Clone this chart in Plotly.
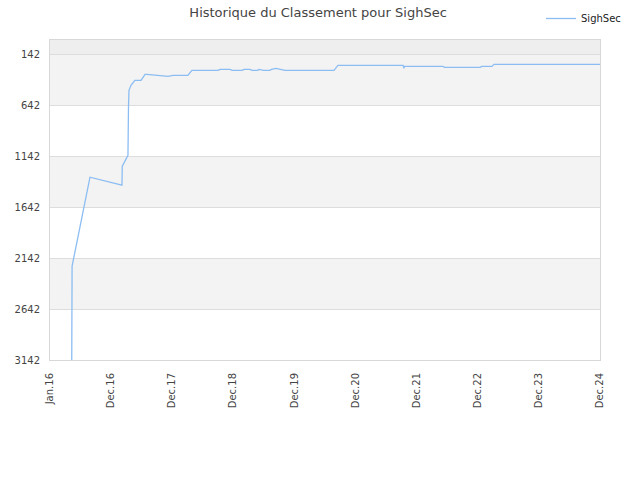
import plotly.graph_objects as go

# rank history for SighSec (lower = better)
dates = [
    "2016-05-10", "2016-05-12", "2016-08-27", "2017-03-06", "2017-03-08",
    "2017-04-11", "2017-04-14", "2017-04-17", "2017-04-29", "2017-05-22",
    "2017-06-28", "2017-07-22", "2017-08-02", "2017-10-08", "2017-12-07",
    "2018-01-05", "2018-04-04", "2018-04-28", "2018-10-01", "2018-10-13",
    "2018-12-12", "2018-12-25", "2019-02-22", "2019-03-06", "2019-04-10",
    "2019-04-22", "2019-05-27", "2019-06-03", "2019-07-01", "2019-08-07",
    "2019-08-16", "2019-09-13", "2019-10-06", "2019-11-05", "2020-08-24",
    "2020-09-05", "2020-09-17", "2021-10-11", "2021-10-16", "2021-10-20",
    "2022-06-06", "2022-06-17", "2023-01-15", "2023-01-24", "2023-03-26",
    "2023-04-08", "2024-12-31",
]
ranks = [
    3142, 2220, 1348, 1426, 1240,
    1132, 662, 495, 446, 397,
    397, 338, 338, 348, 358,
    348, 348, 299, 299, 289,
    289, 299, 299, 289, 289,
    299, 299, 289, 299, 299,
    289, 279, 289, 299, 299,
    279, 250, 250, 279, 260,
    260, 269, 269, 260, 260,
    240, 240,
]

y_ticks = [142, 642, 1142, 1642, 2142, 2642, 3142]
x_tickvals = ["2016-01-01", "2016-12-31", "2017-12-31", "2018-12-31", "2019-12-31",
              "2020-12-31", "2021-12-31", "2022-12-31", "2023-12-31", "2024-12-31"]
x_ticktext = ["Jan.16", "Dec.16", "Dec.17", "Dec.18", "Dec.19",
              "Dec.20", "Dec.21", "Dec.22", "Dec.23", "Dec.24"]

fig = go.Figure()
fig.add_trace(go.Scatter(x=dates, y=ranks, mode="lines", name="SighSec",
                         line=dict(color="#8cbdf2", width=1.3)))

# alternating bands
shapes = [dict(type="rect", xref="paper", yref="y", x0=0, x1=1, y0=1, y1=y_ticks[0],
               fillcolor="#eeeeee", line_width=0, layer="below")]
for i in range(len(y_ticks) - 1):
    if i % 2 == 0:
        shapes.append(dict(type="rect", xref="paper", yref="y", x0=0, x1=1,
                           y0=y_ticks[i], y1=y_ticks[i + 1],
                           fillcolor="#f3f3f3", line_width=0, layer="below"))

fig.update_layout(
    width=640, height=480,
    margin=dict(l=50, r=40, t=40, b=120, autoexpand=False),
    paper_bgcolor="white", plot_bgcolor="white",
    font=dict(family="DejaVu Sans", size=10, color="#444444"),
    title=dict(text="Historique du Classement pour SighSec", x=0.497, xanchor="center",
               y=1 - 12 / 480, yanchor="middle",
               font=dict(size=13, color="#444444")),
    showlegend=True,
    legend=dict(xref="container", yref="container", x=541 / 640, y=1 - 4 / 480,
                xanchor="left", yanchor="top", bgcolor="rgba(0,0,0,0)",
                font=dict(size=10, color="#222222"), itemwidth=30),
    shapes=shapes,
    xaxis=dict(type="date", range=["2016-01-01", "2024-12-31"],
               tickvals=x_tickvals, ticktext=x_ticktext, tickangle=-90,
               showgrid=False, zeroline=False, showline=True, linecolor="#d8d8d8",
               mirror=True, ticks="", ticklabelstandoff=8,
               tickfont=dict(size=10, color="#444444")),
    yaxis=dict(range=[3142, 1], tickvals=y_ticks, showgrid=True, gridcolor="#dddddd",
               zeroline=False, showline=True, linecolor="#d8d8d8", mirror=True,
               ticks="", ticklabelstandoff=7,
               tickfont=dict(size=10, color="#444444")),
)

# drop the default page margin so the figure sits at the top-left corner
fig.write_html("out.html", config={"displayModeBar": False},
               post_script="document.body.style.margin='0';")
